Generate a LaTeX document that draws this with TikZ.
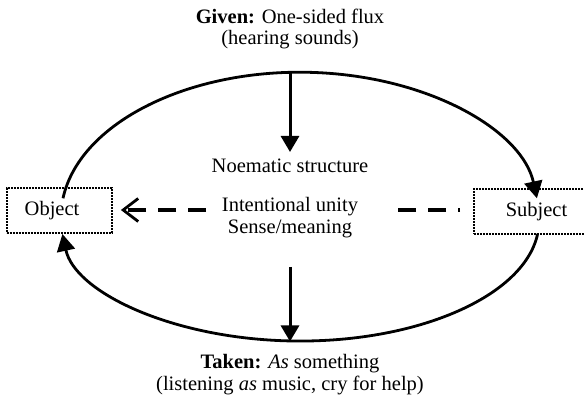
\documentclass[tikz,border=0pt]{standalone}
\usepackage{fontspec}
\setmainfont{Liberation Serif}
\usetikzlibrary{arrows.meta}
\begin{document}
\begin{tikzpicture}[x=1pt,y=1pt,
  txt/.style={font=\fontsize{20.5}{21.5}\selectfont, align=center, inner sep=0pt},
  dotbox/.style={draw, line width=1.8pt, dash pattern=on 1.8pt off 1.2pt, inner sep=0pt, minimum height=45pt},
  arcline/.style={line width=2.8pt, -{Triangle[length=17pt,width=18pt]}},
  vline/.style={line width=3pt, -{Triangle[length=16pt,width=18pt]}},
  dashline/.style={line width=3.8pt, dash pattern=on 18pt off 12pt}
]
\useasboundingbox (0,0) rectangle (584,404);
\clip (0,0) rectangle (584,404);
\fill[white] (0,0) rectangle (584,404);

% boxes
\node[dotbox, txt, text width=69pt, align=left, inner xsep=18pt, minimum height=45pt] (obj) at (59.2,193.3) {Object};
\node[dotbox, txt, minimum width=125pt] (subj) at (536.5,192.5) {Subject};

% texts
\node[txt] (given) at (290,375) {\textbf{Given:} One-sided flux\\(hearing sounds)};
\node[txt] (noem) at (290,238) {Noematic structure};
\node[txt] (unity) at (290,186.5) {Intentional unity\\Sense/meaning};
\node[txt] (taken) at (290,29.5) {\textbf{Taken:} \textit{As} something\\(listening \textit{as} music, cry for help)};

% arcs
\coordinate (objtop) at (63,205.7);
\coordinate (subjbot) at (537.6,170);
\draw[arcline] (objtop) arc[start angle=172.5, end angle=7.5, x radius=239, y radius=145];
\draw[arcline] (subjbot) arc[start angle=-6.2, end angle=-173.8, x radius=239, y radius=120];

% vertical arrows
\coordinate (gtop) at (290,332);
\coordinate (gend) at (290,252);
\coordinate (tstart) at (290,137);
\coordinate (tend) at (290,62.5);
\draw[vline] (gtop) -- (gend);
\draw[vline] (tstart) -- (tend);

% dashed arrow
\coordinate (dR) at (460,194);
\coordinate (dRend) at (398,194);
\coordinate (dL) at (206,194);
\draw[dashline, dash phase=16pt] (dR) -- (dRend);
\draw[dashline, shorten >=8.3pt, -{Straight Barb[length=15pt,width=23pt,line width=2.8pt]}] (dL) -- (obj.east |- dL);
\end{tikzpicture}
\end{document}
